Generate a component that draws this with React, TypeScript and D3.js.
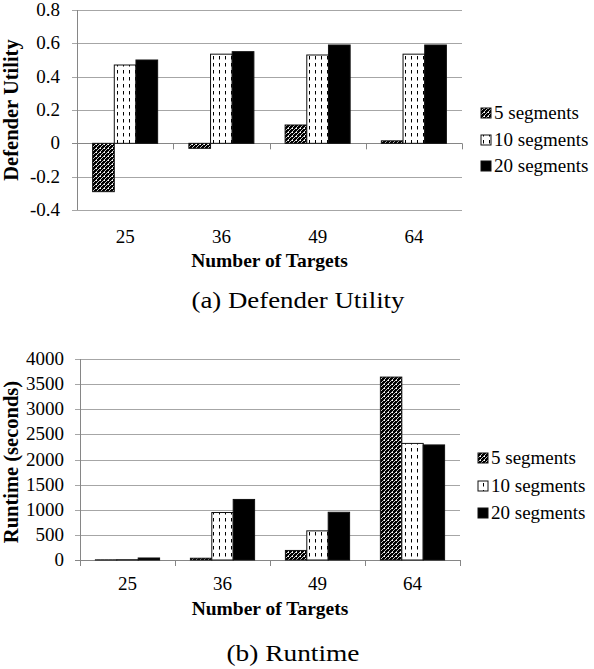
import React from 'react';
import { scaleBand, scaleLinear } from 'd3';

const categories = ['25', '36', '49', '64'];
const seriesNames = ['5 segments', '10 segments', '20 segments'];
const seriesFills = ['url(#hatch)', 'url(#dash)', '#000'];

const utility5 = [-0.29, -0.03, 0.11, 0.015];
const utility10 = [0.47, 0.535, 0.53, 0.535];
const utility20 = [0.5, 0.55, 0.59, 0.59];
const utilityTicks = [-0.4, -0.2, 0, 0.2, 0.4, 0.6, 0.8];

const runtime5 = [3, 35, 190, 3640];
const runtime10 = [6, 945, 580, 2320];
const runtime20 = [40, 1205, 950, 2290];
const runtimeTicks = [0, 500, 1000, 1500, 2000, 2500, 3000, 3500, 4000];

const FONT = 'Liberation Serif, DejaVu Serif';

type PanelProps = {
  series: number[][];
  ticks: number[];
  left: number;
  right: number;
  top: number;
  bottom: number;
  yTitle: string;
  yTitleY: number;
  labelEnd: number;
  legendX: number;
  legendRows: number[];
  caption: string;
  captionX: number;
  captionLen: number;
  tickY: number;
  titleY: number;
  captionY: number;
};

function Panel(p: PanelProps) {
  const lo = p.ticks[0];
  const hi = p.ticks[p.ticks.length - 1];
  const y = scaleLinear().domain([lo, hi]).range([p.bottom, p.top]);
  const x0 = scaleBand().domain(categories).range([p.left, p.right]).padding(0);
  const x1 = scaleBand<number>()
    .domain([0, 1, 2])
    .range([0, x0.bandwidth()])
    .paddingInner(0)
    .paddingOuter(0.72);
  const zero = y(Math.max(0, lo));
  const cx = (p.left + p.right) / 2;

  return (
    <g>
      {/* gridlines + y ticks */}
      {p.ticks.map((t) => (
        <g key={t}>
          <line x1={p.left - 5} x2={p.right} y1={Math.round(y(t)) + 0.5} y2={Math.round(y(t)) + 0.5}
            stroke={t === 0 ? '#868686' : '#a6a6a6'} strokeWidth={1} />
          <text x={p.labelEnd} y={y(t) + 6} fontFamily={FONT} fontSize={19} textAnchor="end">{String(t)}</text>
        </g>
      ))}
      <line x1={p.left + 0.5} x2={p.left + 0.5} y1={p.top} y2={p.bottom} stroke="#868686" />
      {/* category tick marks below the zero line */}
      {[...categories.map((c) => x0(c) as number), p.right].map((v, i) => (
        <line key={i} x1={Math.round(v) + 0.5} x2={Math.round(v) + 0.5} y1={zero} y2={zero + 6} stroke="#868686" />
      ))}
      {/* bars */}
      {categories.map((c, ci) => (
        <g key={c}>
          {p.series.map((vals, si) => {
            const v = vals[ci];
            const bx = (x0(c) as number) + (x1(si) as number);
            const top = Math.min(y(v), y(0));
            const h = Math.abs(y(v) - y(0));
            return (
              <rect key={si} x={bx} y={top} width={x1.bandwidth()} height={h}
                fill={seriesFills[si]} stroke="#111" strokeWidth={1} />
            );
          })}
          <text x={(x0(c) as number) + x0.bandwidth() / 2} y={p.tickY} fontFamily={FONT} fontSize={19} textAnchor="middle">{c}</text>
        </g>
      ))}
      <text x={cx} y={p.titleY} fontFamily={FONT} fontSize={19.5} fontWeight="bold" textAnchor="middle">Number of Targets</text>
      <text transform={`translate(18,${p.yTitleY}) rotate(-90)`} fontFamily={FONT} fontSize={20.5} fontWeight="bold" textAnchor="middle">{p.yTitle}</text>
      {/* legend */}
      {seriesNames.map((n, i) => (
        <g key={n}>
          <rect x={p.legendX} y={p.legendRows[i] - 5} width={10} height={10} fill={seriesFills[i]} stroke="#111" strokeWidth={1} />
          <text x={p.legendX + 13} y={p.legendRows[i] + 6} fontFamily={FONT} fontSize={19}>{n}</text>
        </g>
      ))}
      <text x={p.captionX} y={p.captionY} fontFamily={FONT} fontSize={23} textAnchor="middle"
        textLength={p.captionLen} lengthAdjust="spacingAndGlyphs">{p.caption}</text>
    </g>
  );
}

export default function App() {
  return (
    <svg width={594} height={669} style={{ position: 'absolute', left: 0, top: 0, background: '#fff' }}>
      <defs>
        <pattern id="hatch" width={4} height={4} patternUnits="userSpaceOnUse">
          <rect width={4} height={4} fill="#000" />
          <path d="M0,4 L4,0 M-1,1 L1,-1 M3,5 L5,3" stroke="#fff" strokeWidth={0.8} />
          <rect x={0} y={0} width={1} height={1} fill="#fff" />
        </pattern>
        <pattern id="dash" width={6} height={7} patternUnits="userSpaceOnUse">
          <rect width={6} height={7} fill="#fff" />
          <line x1={3.5} x2={3.5} y1={0} y2={3.5} stroke="#000" strokeWidth={1} />
        </pattern>
      </defs>
      <rect width={594} height={669} fill="#fff" />
      <Panel
        series={[utility5, utility10, utility20]}
        ticks={utilityTicks}
        left={77} right={462} top={10} bottom={210}
        yTitle="Defender Utility" yTitleY={110}
        labelEnd={60}
        legendX={481} legendRows={[113, 140, 166]}
        caption="(a) Defender Utility" captionX={298} captionLen={213}
        tickY={243} titleY={267} captionY={308}
      />
      <Panel
        series={[runtime5, runtime10, runtime20]}
        ticks={runtimeTicks}
        left={80} right={460} top={359} bottom={560}
        yTitle="Runtime (seconds)" yTitleY={462}
        labelEnd={64}
        legendX={478} legendRows={[458, 486, 513]}
        caption="(b) Runtime" captionX={293} captionLen={133}
        tickY={590} titleY={615} captionY={661}
      />
    </svg>
  );
}
